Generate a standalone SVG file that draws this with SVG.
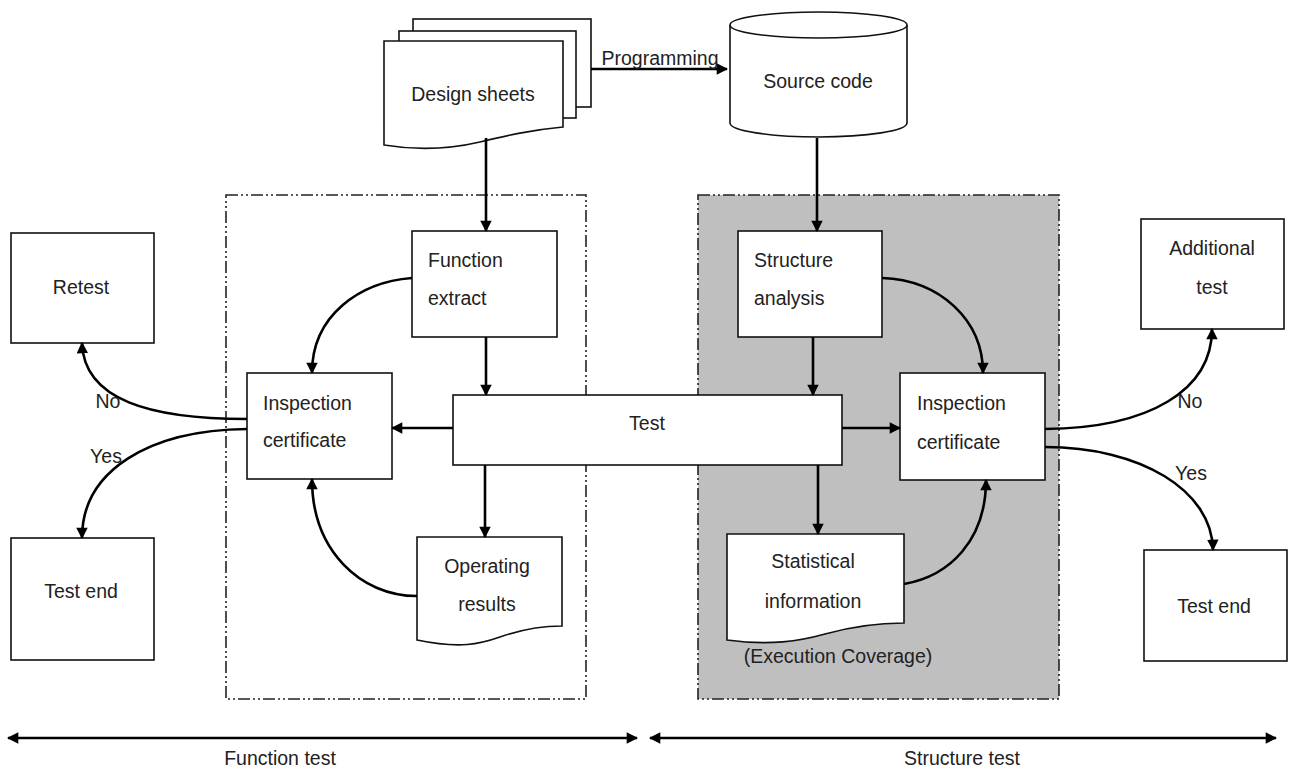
<svg xmlns="http://www.w3.org/2000/svg" width="1293" height="771" viewBox="0 0 1293 771">
  <defs>
    <marker id="arr" viewBox="0 0 10 10" refX="9" refY="5" markerWidth="4.6" markerHeight="4.4" markerUnits="strokeWidth" orient="auto-start-reverse">
      <path d="M0,0 L10,5 L0,10 z" fill="#000"/>
    </marker>
    <style>
      .box { fill: #fff; stroke: #111; stroke-width: 1.6; }
      .frame { fill: none; stroke: #222; stroke-width: 1.6; stroke-dasharray: 12 3 2 3 2 3; }
      .lbl { font-family: "Liberation Sans", Arial, sans-serif; font-size: 19.5px; fill: #222; }
      .mid { text-anchor: middle; }
      .con { fill: none; stroke: #000; stroke-width: 2.6; marker-end: url(#arr); }
      .span { fill: none; stroke: #000; stroke-width: 2.6; marker-start: url(#arr); marker-end: url(#arr); }
    </style>
  </defs>

  <rect width="1293" height="771" fill="#fff"/>

  <!-- test region frames -->
  <g id="function-area">
    <rect class="frame" x="226" y="195" width="360" height="504"/>
  </g>
  <g id="structure-area">
    <rect class="frame" x="698" y="195" width="361" height="504" style="fill:#bfbfbf"/>
  </g>

  <!-- design sheets (stack of documents) -->
  <g id="design-sheets">
    <rect class="box" x="413" y="19" width="178" height="88"/>
    <rect class="box" x="399" y="31" width="177" height="87"/>
    <path class="box" d="M384,41 H563 V127 C530,130 505,136 480,142 C450,149 420,151 384,145 Z"/>
    <text class="lbl mid" x="473" y="101">Design sheets</text>
  </g>

  <!-- source code (database cylinder) -->
  <g id="source-code">
    <path class="box" d="M730,25 V123 A88.5,14 0 0 0 907,123 V25"/>
    <ellipse class="box" cx="818.5" cy="25" rx="88.5" ry="13"/>
    <text class="lbl mid" x="818" y="88">Source code</text>
  </g>

  <g id="function-extract">
    <rect class="box" x="412" y="231" width="145" height="106"/>
    <text class="lbl" x="428" y="267">Function</text>
    <text class="lbl" x="428" y="305">extract</text>
  </g>

  <g id="structure-analysis">
    <rect class="box" x="738" y="231" width="144" height="106"/>
    <text class="lbl" x="754" y="267">Structure</text>
    <text class="lbl" x="754" y="305">analysis</text>
  </g>

  <g id="test">
    <rect class="box" x="453" y="395" width="389" height="70"/>
    <text class="lbl mid" x="647" y="430">Test</text>
  </g>

  <g id="inspection-left">
    <rect class="box" x="247" y="373" width="145" height="106"/>
    <text class="lbl" x="263" y="410">Inspection</text>
    <text class="lbl" x="263" y="447">certificate</text>
  </g>

  <g id="inspection-right">
    <rect class="box" x="900" y="373" width="145" height="107"/>
    <text class="lbl" x="917" y="410">Inspection</text>
    <text class="lbl" x="917" y="449">certificate</text>
  </g>

  <g id="operating-results">
    <path class="box" d="M417,537 H562 V626 C540,626 520,630 500,637 C480,644 460,649 417,640 Z"/>
    <text class="lbl mid" x="487" y="573">Operating</text>
    <text class="lbl mid" x="487" y="611">results</text>
  </g>

  <g id="statistical-information">
    <path class="box" d="M727,534 H904 V623 C880,623 850,627 825,634 C800,641 770,646 727,640 Z"/>
    <text class="lbl mid" x="813" y="568">Statistical</text>
    <text class="lbl mid" x="813" y="608">information</text>
    <text class="lbl mid" x="838" y="663">(Execution Coverage)</text>
  </g>

  <g id="retest">
    <rect class="box" x="11" y="233" width="143" height="110"/>
    <text class="lbl mid" x="81" y="294">Retest</text>
  </g>

  <g id="test-end-left">
    <rect class="box" x="11" y="538" width="143" height="122"/>
    <text class="lbl mid" x="81" y="598">Test end</text>
  </g>

  <g id="additional-test">
    <rect class="box" x="1141" y="219" width="143" height="110"/>
    <text class="lbl mid" x="1212" y="255">Additional</text>
    <text class="lbl mid" x="1212" y="294">test</text>
  </g>

  <g id="test-end-right">
    <rect class="box" x="1144" y="550" width="143" height="111"/>
    <text class="lbl mid" x="1214" y="613">Test end</text>
  </g>

  <!-- connectors -->
  <g id="connectors">
    <path class="con" d="M591,69 H727"/>
    <path class="con" d="M486,138 V231"/>
    <path class="con" d="M817,138 V231"/>
    <path class="con" d="M486,337 V395"/>
    <path class="con" d="M813,337 V395"/>
    <path class="con" d="M485,465 V537"/>
    <path class="con" d="M818,465 V534"/>
    <path class="con" d="M453,428 H392"/>
    <path class="con" d="M842,428 H900"/>
    <path class="con" d="M412,278 C360,282 312,315 312,373"/>
    <path class="con" d="M417,596 C360,596 312,550 312,479"/>
    <path class="con" d="M882,278 C940,280 983,320 983,373"/>
    <path class="con" d="M904,584 C950,576 986,540 986,480"/>
    <path class="con" d="M247,419 C150,419 84,400 82,343"/>
    <path class="con" d="M247,429 C150,430 82,470 82,538"/>
    <path class="con" d="M1045,429 C1150,428 1212,390 1212,329"/>
    <path class="con" d="M1045,447 C1140,447 1212,490 1213,550"/>
    <path class="span" d="M8,738 H637"/>
    <path class="span" d="M650,738 H1276"/>
  </g>

  <!-- connector labels -->
  <g id="labels">
    <text class="lbl mid" x="660" y="65">Programming</text>
    <text class="lbl mid" x="108" y="408">No</text>
    <text class="lbl mid" x="106" y="463">Yes</text>
    <text class="lbl mid" x="1190" y="408">No</text>
    <text class="lbl mid" x="1191" y="480">Yes</text>
    <text class="lbl mid" x="280" y="765">Function test</text>
    <text class="lbl mid" x="962" y="765">Structure test</text>
  </g>
</svg>
